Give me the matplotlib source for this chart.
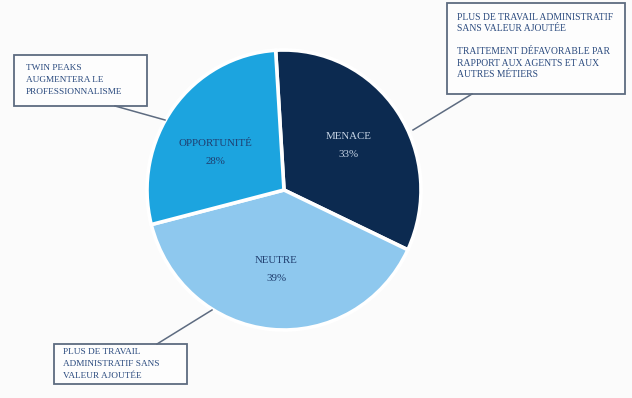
import matplotlib
matplotlib.use("Agg")
import matplotlib.pyplot as plt
import numpy as np
from matplotlib.lines import Line2D
from matplotlib.patches import Rectangle

# Perception of the change, share of respondents
categories = ["Menace", "Neutre", "Opportunité"]
shares = [33, 39, 28]
slice_colors = ["#0c2a50", "#8ec8ee", "#1ca4df"]
label_colors = ["#c9d6e6", "#1f3d6e", "#1f3d6e"]

# Comments attached to the slices
comment_menace = ["PLUS DE TRAVAIL ADMINISTRATIF", "SANS VALEUR AJOUTÉE", "",
                  "TRAITEMENT DÉFAVORABLE PAR", "RAPPORT AUX AGENTS ET AUX",
                  "AUTRES MÉTIERS"]
comment_opportunite = ["TWIN PEAKS", "AUGMENTERA LE", "PROFESSIONNALISME"]
comment_neutre = ["PLUS DE TRAVAIL", "ADMINISTRATIF SANS", "VALEUR AJOUTÉE"]

W, H = 632, 398
fig = plt.figure(figsize=(W / 100, H / 100), dpi=100)
fig.patch.set_facecolor("#fbfbfb")

SERIF = ["Liberation Serif", "DejaVu Serif"]
TXT = "#2a4a7e"
EDGE = "#5d6b80"

def px(x, y):
    """pixel position (from top-left) -> figure fraction"""
    return x / W, 1 - y / H

# Pie axes: centre ~ (284, 190) px, slightly taller than wide
cx, cy, rx, ry = 284, 190, 137, 140
lim = 1.2
sw, sh = 2 * lim * rx, 2 * lim * ry
ax = fig.add_axes([(cx - sw / 2) / W, (H - cy - sh / 2) / H, sw / W, sh / H])
wedges, _ = ax.pie(shares, colors=slice_colors, startangle=93.5, counterclock=False,
                   wedgeprops=dict(edgecolor="white", linewidth=2.6))
ax.set_xlim(-lim, lim)
ax.set_ylim(-lim, lim)
ax.set_aspect("auto")
ax.axis("off")

# Category name and percentage inside each slice (angle nudge in degrees)
label_nudge = [0, 0, 8]
for w, name, pct, col, nudge in zip(wedges, categories, shares, label_colors, label_nudge):
    mid = np.deg2rad((w.theta1 + w.theta2) / 2 + nudge)
    x, y = w.center[0] + 0.57 * np.cos(mid), w.center[1] + 0.57 * np.sin(mid)
    ax.text(x, y + 0.065, name.upper(), ha="center", va="center", color=col,
            fontsize=7.8, family=SERIF)
    ax.text(x, y - 0.065, f"{pct}%", ha="center", va="center", color=col,
            fontsize=7.8, family=SERIF)

def comment_box(x0, y0, x1, y1, lines, tx, ty, step, size):
    bx, by = px(x0, y1)
    bw, bh = (x1 - x0) / W, (y1 - y0) / H
    fig.patches.append(Rectangle((bx, by), bw, bh, transform=fig.transFigure,
                                 facecolor="#fdfdfd", edgecolor=EDGE, linewidth=1.3))
    for i, line in enumerate(lines):
        if not line:
            continue
        fx, fy = px(tx, ty + i * step)
        fig.text(fx, fy, line, ha="left", va="center", color=TXT,
                 fontsize=size, family=SERIF)

def leader(p0, p1):
    (x0, y0), (x1, y1) = px(*p0), px(*p1)
    fig.lines.append(Line2D([x0, x1], [y0, y1], transform=fig.transFigure,
                            color=EDGE, linewidth=1.1))

comment_box(447, 3, 625, 94, comment_menace, 457, 17, 11.5, 6.9)
leader((413, 130), (472, 94))

comment_box(14, 55, 147, 106, comment_opportunite, 26, 68, 12, 6.7)
leader((115, 106), (165, 120))

comment_box(54, 344, 187, 384, comment_neutre, 63, 352, 12, 6.7)
leader((157, 344), (212, 310))

fig.savefig("out.png", dpi=100, facecolor=fig.get_facecolor())
